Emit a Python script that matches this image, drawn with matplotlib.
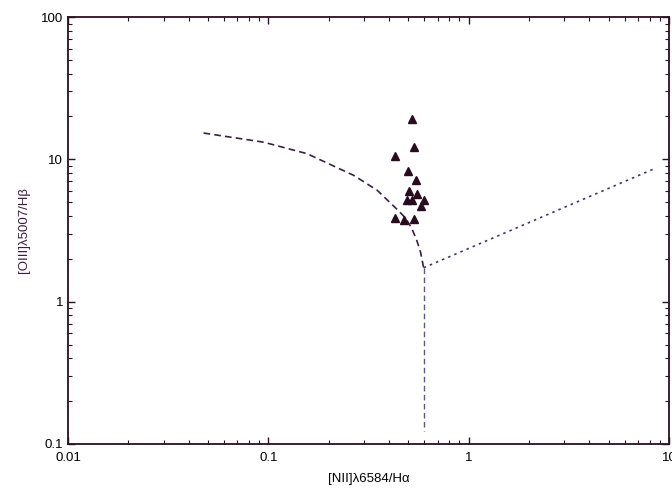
import numpy as np
import matplotlib.pyplot as plt
from matplotlib.ticker import LogLocator, FixedFormatter, FixedLocator, NullFormatter

plt.rcParams['font.family'] = ['Liberation Sans', 'DejaVu Sans']

# -----------------------------
# Data
# -----------------------------
# dashed demarcation curve
curve_x = [0.0475, 0.0947, 0.156, 0.267, 0.350, 0.44, 0.484, 0.519, 0.550, 0.575, 0.596]
curve_y = [15.3, 13.2, 10.96, 7.71, 6.05, 4.44, 3.87, 3.29, 2.71, 2.23, 1.73]

# vertical dashed segment
vert_x = [0.596, 0.596]
vert_y = [1.73, 0.124]

# dotted line to the right
diag_x = [0.596, 8.3]
diag_y = [1.73, 8.5]

# observed objects
obj_x = [0.523, 0.531, 0.430, 0.497, 0.548, 0.501, 0.551,
         0.494, 0.519, 0.600, 0.575, 0.430, 0.473, 0.535]
obj_y = [19.1, 12.2, 10.5, 8.27, 7.2, 5.98, 5.67,
         5.14, 5.14, 5.14, 4.69, 3.86, 3.76, 3.80]

xticks = [0.01, 0.1, 1, 10]
xtick_labels = ['0.01', '0.1', '1', '10']
yticks = [0.1, 1, 10, 100]
ytick_labels = ['0.1', '1', '10', '100']

# -----------------------------
# Plot
# -----------------------------
fig = plt.figure(figsize=(6.72, 4.88), dpi=100)
ax = fig.add_axes([68/672, 44/488, 601/672, 427/488])

ax.plot(curve_x, curve_y, color='#3a2048', lw=1.2, ls=(0, (4, 2.5)))
ax.plot(vert_x, vert_y, color='#5a5a8a', lw=1.0, ls=(0, (4, 2.5)))
ax.plot(diag_x, diag_y, color='#4a3070', lw=1.2, ls=(0, (1.5, 2.5)))
ax.plot(obj_x, obj_y, ls='none', marker='^', ms=6, color='#2a0a1e')

ax.set_xscale('log')
ax.set_yscale('log')
ax.set_xlim(0.01, 10)
ax.set_ylim(0.1, 100)

ax.xaxis.set_major_locator(FixedLocator(xticks))
ax.xaxis.set_major_formatter(FixedFormatter(xtick_labels))
ax.yaxis.set_major_locator(FixedLocator(yticks))
ax.yaxis.set_major_formatter(FixedFormatter(ytick_labels))
ax.xaxis.set_minor_locator(LogLocator(base=10, subs=np.arange(2, 10)))
ax.yaxis.set_minor_locator(LogLocator(base=10, subs=np.arange(2, 10)))
ax.xaxis.set_minor_formatter(NullFormatter())
ax.yaxis.set_minor_formatter(NullFormatter())

ax.tick_params(which='both', direction='in', top=True, right=True,
               color='#2a1020', labelsize=9.5)
ax.tick_params(which='major', length=5, width=1)
ax.tick_params(which='minor', length=3, width=0.8)
ax.tick_params(axis='x', pad=6)
for s in ax.spines.values():
    s.set_color('#2a1020')
    s.set_linewidth(1.3)

ax.set_xlabel('[NII]\u03bb6584/H\u03b1', fontsize=9.5, labelpad=6)
ax.set_ylabel('[OIII]\u03bb5007/H\u03b2', fontsize=9.5, labelpad=8, color='#3a1a40')

plt.savefig('out.png', dpi=100)
